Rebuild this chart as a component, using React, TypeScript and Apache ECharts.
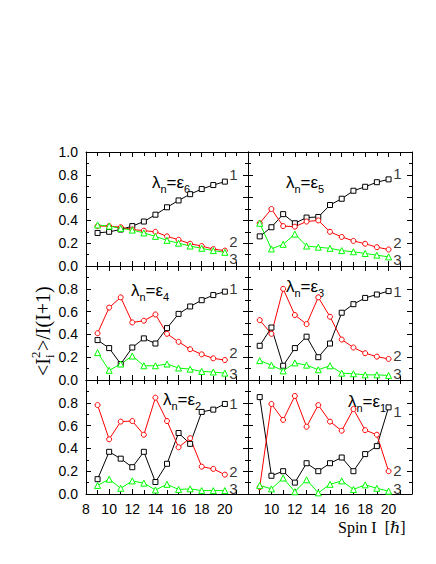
import React, { useEffect, useRef } from "react";
import * as echarts from "echarts";

const spins = [9, 10, 11, 12, 13, 14, 15, 16, 17, 18, 19, 20];

// lambda_n = eps6 (top left)
const e6Black = [0.29, 0.3, 0.32, 0.35, 0.39, 0.45, 0.515, 0.575, 0.63, 0.675, 0.71, 0.74];
const e6Red = [0.35, 0.35, 0.34, 0.32, 0.31, 0.3, 0.26, 0.23, 0.195, 0.175, 0.148, 0.135];
const e6Green = [0.36, 0.35, 0.33, 0.315, 0.29, 0.26, 0.225, 0.2, 0.175, 0.155, 0.135, 0.12];
// eps5 (top right)
const e5Black = [0.26, 0.34, 0.455, 0.375, 0.425, 0.43, 0.535, 0.59, 0.66, 0.695, 0.735, 0.76];
const e5Red = [0.375, 0.5, 0.35, 0.345, 0.39, 0.4, 0.3, 0.255, 0.22, 0.195, 0.165, 0.145];
const e5Green = [0.375, 0.15, 0.19, 0.28, 0.175, 0.165, 0.155, 0.135, 0.125, 0.11, 0.095, 0.08];
// eps4 (middle left)
const e4Black = [0.35, 0.28, 0.14, 0.285, 0.365, 0.32, 0.455, 0.58, 0.645, 0.7, 0.745, 0.775];
const e4Red = [0.41, 0.635, 0.725, 0.505, 0.52, 0.575, 0.405, 0.335, 0.27, 0.225, 0.19, 0.175];
const e4Green = [0.24, 0.085, 0.14, 0.21, 0.125, 0.125, 0.14, 0.105, 0.095, 0.075, 0.07, 0.06];
// eps3 (middle right)
const e3Black = [0.3, 0.46, 0.125, 0.28, 0.38, 0.2, 0.32, 0.59, 0.665, 0.72, 0.75, 0.78];
const e3Red = [0.525, 0.405, 0.8, 0.57, 0.49, 0.725, 0.555, 0.355, 0.285, 0.235, 0.205, 0.185];
const e3Green = [0.17, 0.13, 0.08, 0.15, 0.13, 0.09, 0.125, 0.06, 0.055, 0.045, 0.045, 0.04];
// eps2 (bottom left)
const e2Black = [0.13, 0.37, 0.31, 0.235, 0.37, 0.105, 0.265, 0.535, 0.44, 0.72, 0.74, 0.79];
const e2Red = [0.78, 0.48, 0.635, 0.64, 0.52, 0.845, 0.64, 0.41, 0.49, 0.24, 0.22, 0.17];
const e2Green = [0.075, 0.13, 0.05, 0.115, 0.095, 0.035, 0.085, 0.04, 0.045, 0.03, 0.03, 0.03];
// eps1 (bottom right)
const e1Black = [0.85, 0.16, 0.2, 0.1, 0.27, 0.2, 0.27, 0.32, 0.2, 0.35, 0.42, 0.76];
const e1Red = [0.06, 0.79, 0.65, 0.86, 0.59, 0.78, 0.635, 0.555, 0.745, 0.56, 0.52, 0.2];
const e1Green = [0.075, 0.045, 0.14, 0.02, 0.125, 0.01, 0.085, 0.115, 0.04, 0.08, 0.05, 0.025];

// curve number labels "1","2","3" (value positions at right side of each panel)
const curveNames = ["1", "2", "3"];
const labelX = 20.75;
const e6Labels = [0.8, 0.215, 0.065];
const e5Labels = [0.81, 0.205, 0.06];
const e4Labels = [0.8, 0.245, 0.06];
const e3Labels = [0.78, 0.215, 0.055];
const e2Labels = [0.795, 0.2, 0.045];
const e1Labels = [0.72, 0.205, 0.045];

const panelTags = ["6", "5", "4", "3", "2", "1"];

const xTicks = { min: 8, max: 22, interval: 2 };
const yTicks = { min: 0, max: 1, interval: 0.2 };

const SANS = "Liberation Sans, Arial, sans-serif";
const SERIF = "Liberation Serif, DejaVu Serif, serif";

function buildOption() {
  const panels = [
    { black: e6Black, red: e6Red, green: e6Green, labels: e6Labels },
    { black: e5Black, red: e5Red, green: e5Green, labels: e5Labels },
    { black: e4Black, red: e4Red, green: e4Green, labels: e4Labels },
    { black: e3Black, red: e3Red, green: e3Green, labels: e3Labels },
    { black: e2Black, red: e2Red, green: e2Green, labels: e2Labels },
    { black: e1Black, red: e1Red, green: e1Green, labels: e1Labels },
  ];
  const colLeft = [86, 248];
  const colWidth = [162, 164];
  const rowTop = [152, 266, 380];
  const rowHeight = 114;

  const grid: any[] = [];
  const xAxis: any[] = [];
  const yAxis: any[] = [];
  const series: any[] = [];
  const graphic: any[] = [];

  const lineStyle = { color: "#000", width: 1 };

  panels.forEach((p, g) => {
    const row = Math.floor(g / 2);
    const col = g % 2;
    grid.push({ left: colLeft[col], top: rowTop[row], width: colWidth[col], height: rowHeight });

    const baseX = {
      gridIndex: g,
      type: "value",
      min: xTicks.min,
      max: xTicks.max,
      interval: xTicks.interval,
      axisLine: { show: true, onZero: false, lineStyle },
      axisTick: { show: true, inside: true, length: 5, lineStyle },
      minorTick: { show: true, splitNumber: 2, length: 4, lineStyle },
      splitLine: { show: false },
      minorSplitLine: { show: false },
    };
    xAxis.push({
      ...baseX,
      position: "bottom",
      axisLabel: {
        show: row === 2,
        color: "#000",
        fontSize: 14,
        fontFamily: SANS,
        margin: 8,
        formatter: (v: number) => (v === 22 || (col === 1 && v === 8) ? "" : String(v)),
      },
    });
    xAxis.push({ ...baseX, position: "top", axisLabel: { show: false } });

    const baseY = {
      gridIndex: g,
      type: "value",
      min: yTicks.min,
      max: yTicks.max,
      interval: yTicks.interval,
      axisLine: { show: true, onZero: false, lineStyle },
      axisTick: { show: true, inside: true, length: 5, lineStyle },
      minorTick: { show: true, splitNumber: 2, length: 3, lineStyle },
      splitLine: { show: false },
      minorSplitLine: { show: false },
    };
    yAxis.push({
      ...baseY,
      position: "left",
      axisLabel: {
        show: col === 0,
        color: "#000",
        fontSize: 14,
        fontFamily: SANS,
        margin: 8,
        formatter: (v: number) => (v > 0.99 && row > 0 ? "" : v.toFixed(1)),
      },
    });
    yAxis.push({ ...baseY, position: "right", axisLabel: { show: false } });

    const mk = (arr: number[], color: string, symbol: string, size: number) => ({
      type: "line",
      xAxisIndex: 2 * g,
      yAxisIndex: 2 * g,
      data: spins.map((s, i) => [s, arr[i]]),
      symbol,
      symbolSize: size,
      showAllSymbol: true,
      lineStyle: { color, width: 1 },
      itemStyle: { color: "#ffffff", borderColor: color, borderWidth: 1 },
      silent: true,
      z: 3,
    });
    series.push(mk(p.black, "#000000", "rect", 5));
    series.push(mk(p.red, "#ff0000", "circle", 5));
    series.push(mk(p.green, "#00ff00", "triangle", 6));

    series.push({
      type: "scatter",
      xAxisIndex: 2 * g,
      yAxisIndex: 2 * g,
      data: p.labels.map((v, i) => [labelX, v, curveNames[i]]),
      symbolSize: 1,
      itemStyle: { color: "transparent" },
      silent: true,
      label: {
        show: true,
        position: "inside",
        formatter: (q: any) => q.value[2],
        color: "#000",
        fontSize: 15,
        lineHeight: 14,
        fontFamily: SANS,
      },
      z: 5,
    });
  });

  // lambda annotations
  const lamPos = [
    [152, 182],
    [286, 182],
    [131, 290],
    [286, 286],
    [163, 399],
    [348, 401],
  ];
  panelTags.forEach((t, g) => {
    graphic.push({
      type: "text",
      x: lamPos[g][0],
      y: lamPos[g][1],
      silent: true,
      style: {
        text: `{a|λ}{s|n}{a|=ε}{s|${t}}`,
        textAlign: "left",
        textVerticalAlign: "middle",
        fill: "#000",
        rich: {
          a: { fontSize: 17, fontFamily: SANS, lineHeight: 24, verticalAlign: "middle", fill: "#000" },
          s: { fontSize: 11, fontFamily: SANS, lineHeight: 11, verticalAlign: "bottom", fill: "#000" },
        },
      },
    });
  });

  // y-axis title, rotated
  graphic.push({
    type: "group",
    x: 43,
    y: 330,
    rotation: Math.PI / 2,
    silent: true,
    children: [
      { type: "text", x: -46, y: 0, style: { text: "<I", font: `20px ${SERIF}`, textAlign: "left", textVerticalAlign: "middle", fill: "#000" } },
      { type: "text", x: -28, y: 6, style: { text: "i", font: `13px ${SERIF}`, textAlign: "left", textVerticalAlign: "middle", fill: "#000" } },
      { type: "text", x: -28, y: -8, style: { text: "2", font: `13px ${SERIF}`, textAlign: "left", textVerticalAlign: "middle", fill: "#000" } },
      { type: "text", x: -21, y: 0, style: { text: ">/I(I+1)", font: `20px ${SERIF}`, textAlign: "left", textVerticalAlign: "middle", fill: "#000" } },
    ],
  });

  // x-axis title
  graphic.push({
    type: "text",
    x: 338,
    y: 527,
    silent: true,
    style: { text: "Spin I  [ℏ]", font: `16px ${SERIF}`, textAlign: "left", textVerticalAlign: "middle", fill: "#000" },
  });

  return {
    animation: false,
    backgroundColor: "#ffffff",
    grid,
    xAxis,
    yAxis,
    series,
    graphic,
  };
}

export default function App() {
  const ref = useRef<HTMLDivElement>(null);
  useEffect(() => {
    if (!ref.current) return;
    const chart = echarts.init(ref.current, null, { renderer: "svg" });
    chart.setOption(buildOption() as any);
    return () => chart.dispose();
  }, []);
  return (
    <div
      ref={ref}
      style={{ position: "fixed", left: 0, top: 0, width: 436, height: 564, background: "#fff" }}
    />
  );
}
